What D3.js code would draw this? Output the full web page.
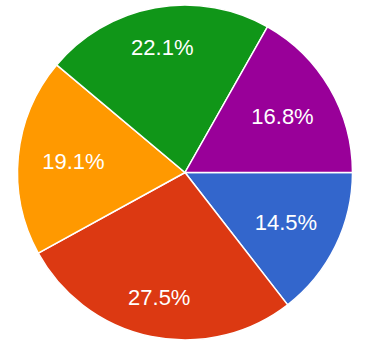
<!DOCTYPE html>
<html><head><meta charset="utf-8">
<script src="https://cdn.jsdelivr.net/npm/d3@7"></script>
<style>html,body{margin:0;padding:0;background:#fff;}svg{display:block;}</style>
</head><body>
<svg id="chart" width="366" height="347"></svg>
<script>
const categories = ["A", "B", "C", "D", "E"];
const values = [14.5, 27.5, 19.1, 22.1, 16.8];
const colors = ["#3366cc", "#dc3912", "#ff9900", "#109618", "#990099"];

const W = 366, H = 347;
const cx = 185, cy = 172.5, R = 167.5;
const fontSize = 22;
const svg = d3.select("#chart");
const g = svg.append("g").attr("transform", `translate(${cx},${cy})`);

const pie = d3.pie().sort(null).value(d => d)
  .startAngle(Math.PI / 2).endAngle(Math.PI / 2 + 2 * Math.PI);
const arcs = pie(values);
const arc = d3.arc().innerRadius(0).outerRadius(R);
const color = d3.scaleOrdinal().domain(categories).range(colors);

g.selectAll("path.slice").data(arcs).enter().append("path")
  .attr("class", "slice")
  .attr("d", arc)
  .attr("fill", (d, i) => color(categories[i]))
  .attr("stroke", "#fff")
  .attr("stroke-width", 1.5);

const labels = g.selectAll("text.lbl").data(arcs).enter().append("text")
  .attr("class", "lbl")
  .attr("font-family", "Arial, 'Liberation Sans', sans-serif")
  .attr("font-size", fontSize)
  .attr("fill", "#fff")
  .attr("text-anchor", "middle")
  .text(d => d3.format(".1f")(d.value) + "%");

const D = 0.86 * R;
const hh = 0.716 * fontSize / 2;
labels.each(function(d) {
  const w2 = this.getComputedTextLength() / 2;
  const a = (d.startAngle + d.endAngle) / 2;
  const ux = Math.sin(a), uy = -Math.cos(a);
  const b = Math.abs(ux) * w2 + Math.abs(uy) * hh;
  const c = w2 * w2 + hh * hh - D * D;
  const r = -b + Math.sqrt(b * b - c);
  d3.select(this).attr("x", r * ux).attr("y", r * uy + hh);
});
</script>
</body></html>
